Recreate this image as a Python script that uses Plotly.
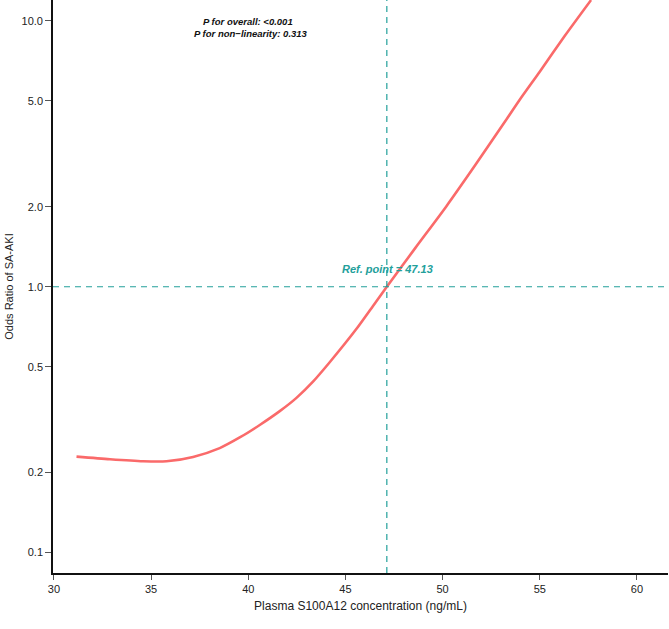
import plotly.graph_objects as go
import numpy as np

# Data
conc = [31.16, 32.88, 34.59, 35.79, 37.16, 38.53, 39.56, 40.59, 41.62, 42.48, 43.33, 44.19,
        45.52, 46.41, 47.13, 48.6, 50.18, 51.7, 53.23, 53.96, 55.0, 56.3, 57.64]
odds = [0.2295, 0.2243, 0.2205, 0.2205, 0.229, 0.2472, 0.2710, 0.3020, 0.3404, 0.3819, 0.4395,
        0.520, 0.687, 0.845, 1.0, 1.40, 2.0, 2.88, 4.20, 5.04, 6.44, 8.80, 11.97]
ref_point = 47.13
y_ticks = [0.1, 0.2, 0.5, 1.0, 2.0, 5.0, 10.0]
y_tick_text = ["0.1", "0.2", "0.5", "1.0", "2.0", "5.0", "10.0"]
x_ticks = [30, 35, 40, 45, 50, 55, 60]

curve_col = "#FA6A6A"
teal = "#23A09B"
font_fam = "Liberation Sans, Arial"

fig = go.Figure()
fig.add_trace(go.Scatter(x=conc, y=odds, mode="lines",
                         line=dict(color=curve_col, width=2.6, shape="spline", smoothing=0.7),
                         hoverinfo="skip", showlegend=False))

fig.add_shape(type="line", xref="x", yref="paper", x0=ref_point, x1=ref_point, y0=0, y1=1,
              line=dict(color=teal, width=1.2, dash="6px,5px"))
fig.add_shape(type="line", xref="paper", yref="y", x0=0, x1=1, y0=1.0, y1=1.0,
              line=dict(color=teal, width=1.2, dash="6px,5px"))

fig.add_annotation(x=ref_point, y=np.log10(1.0), xref="x", yref="y",
                   text="<b><i>Ref. point = 47.13</i></b>", showarrow=False,
                   yanchor="bottom", yshift=10, xshift=1,
                   font=dict(family=font_fam, size=11, color=teal))
fig.add_annotation(xref="paper", yref="paper", x=(248 - 53) / 615, y=1 - 21.5 / 573,
                   text="<b><i>P for overall: <0.001</i></b>", showarrow=False,
                   xanchor="center", yanchor="middle",
                   font=dict(family=font_fam, size=9.5, color="#111111"))
fig.add_annotation(xref="paper", yref="paper", x=(251 - 53) / 615, y=1 - 34 / 573,
                   text="<b><i>P for non\u2212linearity: 0.313</i></b>", showarrow=False,
                   xanchor="center", yanchor="middle",
                   font=dict(family=font_fam, size=9.5, color="#111111"))

fig.update_xaxes(range=[29.95, 61.60], tickvals=x_ticks, showgrid=False, zeroline=False,
                 showline=True, linecolor="#111111", linewidth=1.6,
                 ticks="outside", ticklen=5, tickcolor="#555555", tickwidth=1,
                 tickfont=dict(family=font_fam, size=11, color="#222222"),
                 title=dict(text="Plasma S100A12 concentration (ng/mL)", standoff=8,
                            font=dict(family=font_fam, size=12, color="#222222")))
fig.update_yaxes(type="log", range=[np.log10(0.0838), np.log10(11.98)],
                 tickvals=y_ticks, ticktext=y_tick_text, showgrid=False, zeroline=False,
                 showline=True, linecolor="#111111", linewidth=1.6,
                 ticks="outside", ticklen=6, tickcolor="#555555", tickwidth=1,
                 tickfont=dict(family=font_fam, size=11, color="#222222"),
                 title=dict(text="Odds Ratio of SA-AKI", standoff=6,
                            font=dict(family=font_fam, size=11, color="#222222")))

fig.update_layout(width=669, height=629, margin=dict(l=53, r=1, t=0, b=56),
                  plot_bgcolor="white", paper_bgcolor="white")
fig.write_html("out.html")
